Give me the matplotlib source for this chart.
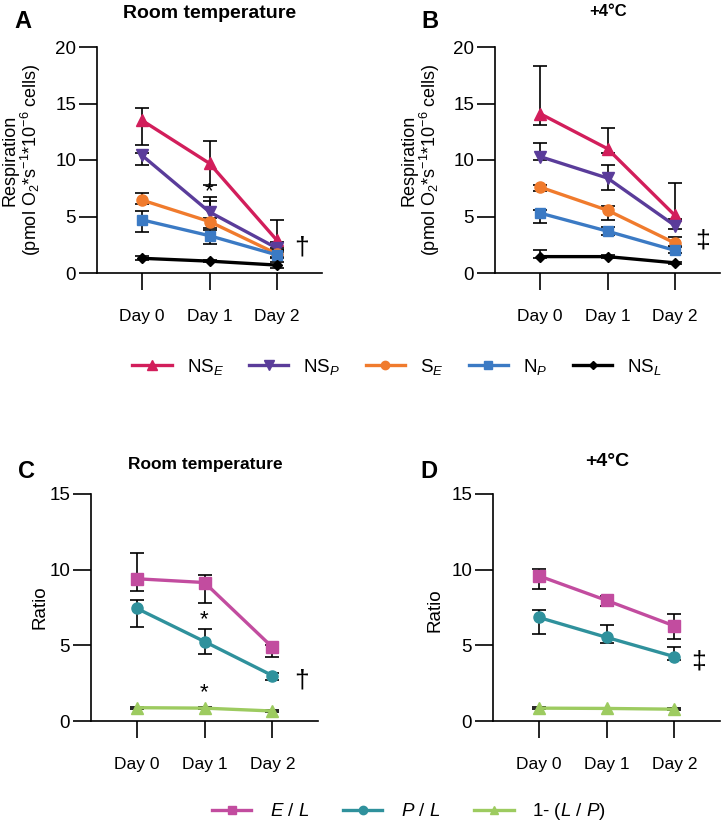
import matplotlib
matplotlib.use("Agg")
import matplotlib.pyplot as plt
from matplotlib.lines import Line2D
import numpy as np

plt.rcParams['font.family'] = ['Liberation Sans', 'DejaVu Sans']
plt.rcParams['mathtext.fontset'] = 'custom'
plt.rcParams['mathtext.rm'] = 'Liberation Sans'
plt.rcParams['mathtext.it'] = 'Liberation Sans:italic'
plt.rcParams['mathtext.bf'] = 'Liberation Sans:bold'

# ---------------------------------------------------------------
# data
days = ['Day 0', 'Day 1', 'Day 2']

# panel A : respiration, room temperature  (mean, low end, high end of bar)
rt_nse = [13.5, 9.7, 2.9];   rt_nse_lo = [11.3, 7.8, 2.2];  rt_nse_hi = [14.6, 11.7, 4.7]
rt_nsp = [10.4, 5.4, 2.2];   rt_nsp_lo = [9.6, 4.9, 1.9];   rt_nsp_hi = [10.6, 6.7, 2.7]
rt_se = [6.45, 4.55, 1.7];   rt_se_lo = [6.1, 4.0, 1.4];    rt_se_hi = [7.05, 6.4, 2.0]
rt_np = [4.7, 3.3, 1.6];     rt_np_lo = [3.65, 2.6, 1.3];   rt_np_hi = [5.5, 3.8, 2.0]
rt_nsl = [1.3, 1.05, 0.7];   rt_nsl_lo = [1.15, 0.95, 0.45]; rt_nsl_hi = [1.5, 1.15, 0.95]

# panel B : respiration, +4 C
c4_nse = [14.1, 11.0, 5.1];  c4_nse_lo = [13.1, 10.6, 4.8]; c4_nse_hi = [18.3, 12.8, 8.0]
c4_nsp = [10.3, 8.4, 4.2];   c4_nsp_lo = [10.0, 7.35, 3.85]; c4_nsp_hi = [11.5, 9.55, 4.7]
c4_se = [7.6, 5.55, 2.65];   c4_se_lo = [7.3, 4.7, 2.4];    c4_se_hi = [7.8, 5.9, 3.2]
c4_np = [5.3, 3.7, 2.0];     c4_np_lo = [4.4, 3.4, 1.8];    c4_np_hi = [5.6, 4.1, 2.3]
c4_nsl = [1.45, 1.45, 0.9];  c4_nsl_lo = [1.3, 1.35, 0.8];  c4_nsl_hi = [2.0, 1.55, 1.0]

# panel C : ratios, room temperature
rt_el = [9.4, 9.15, 4.87];   rt_el_lo = [8.6, 7.8, 4.25];   rt_el_hi = [11.1, 9.65, 5.0]
rt_pl = [7.45, 5.25, 3.0];   rt_pl_lo = [6.2, 4.45, 2.7];   rt_pl_hi = [8.0, 6.05, 3.2]
rt_lp = [0.88, 0.85, 0.66];  rt_lp_lo = [0.8, 0.78, 0.6];   rt_lp_hi = [0.92, 0.9, 0.72]

# panel D : ratios, +4 C
c4_el = [9.6, 7.97, 6.28];   c4_el_lo = [8.7, 7.6, 5.4];    c4_el_hi = [10.05, 8.27, 7.07]
c4_pl = [6.85, 5.53, 4.25];  c4_pl_lo = [5.75, 5.17, 4.0];  c4_pl_hi = [7.33, 6.34, 4.87]
c4_lp = [0.85, 0.83, 0.78];  c4_lp_lo = [0.8, 0.78, 0.72];  c4_lp_hi = [0.9, 0.88, 0.84]

resp_labels = [r'NS$_E$', r'NS$_P$', r'S$_E$', r'N$_P$', r'NS$_L$']
ratio_labels = [r'$E$ / $L$', r'$P$ / $L$', r'1- ($L$ / $P$)']

resp_colors = ['#D21E5B', '#5A3C9A', '#F07B2D', '#3B7AC4', '#000000']
resp_markers = ['^', 'v', 'o', 's', 'D']
resp_ms = [9, 9, 8, 7.5, 5.5]
ratio_colors = ['#C24C9F', '#2F919C', '#9DCB60']
ratio_markers = ['s', 'o', '^']
ratio_ms = [8.5, 8, 8.5]

W, H = 725, 826
fig = plt.figure(figsize=(W / 100, H / 100), dpi=100)

def fx(x):
    return x / W

def fy(y):
    return 1 - y / H

def series_plot(ax, x, m, lo, hi, color, marker, ms):
    m = np.array(m); lo = np.array(lo); hi = np.array(hi)
    ax.errorbar(x, m, yerr=[m - lo, hi - m], fmt='none', ecolor='black',
                elinewidth=1.2, capsize=5, capthick=1.2, zorder=2)
    ax.plot(x, m, color=color, lw=2.4, marker=marker, ms=ms, mec=color, zorder=3,
            clip_on=False)

def style_axes(ax, ymax, step):
    x = np.arange(len(days))
    ax.set_xlim(-0.67, 2.67)
    ax.set_ylim(0, ymax)
    ax.set_yticks(np.arange(0, ymax + 1, step))
    ax.set_xticks(x)
    ax.set_xticklabels(days)
    for s in ['top', 'right']:
        ax.spines[s].set_visible(False)
    for s in ['left', 'bottom']:
        ax.spines[s].set_linewidth(1.2)
    ax.tick_params(axis='y', length=13, width=1.2, labelsize=13.5, pad=2)
    ax.tick_params(axis='x', length=12, width=1.2, labelsize=12.5, pad=14)

x = np.arange(len(days))

# ---- A
axA = fig.add_axes([fx(97), fy(273), fx(225), (273 - 47) / H])
for m, lo, hi, c, mk, ms in zip([rt_nse, rt_nsp, rt_se, rt_np, rt_nsl],
                                [rt_nse_lo, rt_nsp_lo, rt_se_lo, rt_np_lo, rt_nsl_lo],
                                [rt_nse_hi, rt_nsp_hi, rt_se_hi, rt_np_hi, rt_nsl_hi],
                                resp_colors, resp_markers, resp_ms):
    series_plot(axA, x, m, lo, hi, c, mk, ms)
style_axes(axA, 20, 5)
axA.text(1, 7.2, '*', ha='center', va='center', fontsize=16)
axA.text(2.37, 2.3, '\u2020', ha='center', va='center', fontsize=19)

# ---- B
axB = fig.add_axes([fx(495), fy(273), fx(225), (273 - 47) / H])
for m, lo, hi, c, mk, ms in zip([c4_nse, c4_nsp, c4_se, c4_np, c4_nsl],
                                [c4_nse_lo, c4_nsp_lo, c4_se_lo, c4_np_lo, c4_nsl_lo],
                                [c4_nse_hi, c4_nsp_hi, c4_se_hi, c4_np_hi, c4_nsl_hi],
                                resp_colors, resp_markers, resp_ms):
    series_plot(axB, x, m, lo, hi, c, mk, ms)
style_axes(axB, 20, 5)
axB.text(2.41, 2.9, '\u2021', ha='center', va='center', fontsize=19)

# ---- C
axC = fig.add_axes([fx(91), fy(721), fx(227), (721 - 494) / H])
for m, lo, hi, c, mk, ms in zip([rt_el, rt_pl, rt_lp], [rt_el_lo, rt_pl_lo, rt_lp_lo],
                                [rt_el_hi, rt_pl_hi, rt_lp_hi],
                                ratio_colors, ratio_markers, ratio_ms):
    series_plot(axC, x, m, lo, hi, c, mk, ms)
style_axes(axC, 15, 5)
axC.text(1, 6.7, '*', ha='center', va='center', fontsize=16)
axC.text(1, 1.85, '*', ha='center', va='center', fontsize=16)
axC.text(2.43, 2.7, '\u2020', ha='center', va='center', fontsize=19)

# ---- D
axD = fig.add_axes([fx(493), fy(721), fx(227), (721 - 494) / H])
for m, lo, hi, c, mk, ms in zip([c4_el, c4_pl, c4_lp], [c4_el_lo, c4_pl_lo, c4_lp_lo],
                                [c4_el_hi, c4_pl_hi, c4_lp_hi],
                                ratio_colors, ratio_markers, ratio_ms):
    series_plot(axD, x, m, lo, hi, c, mk, ms)
style_axes(axD, 15, 5)
axD.text(2.36, 3.9, '\u2021', ha='center', va='center', fontsize=19)

# ---- titles, panel letters, y labels
fig.text(fx(210), fy(13), 'Room temperature', ha='center', va='center',
         fontsize=14, fontweight='bold')
fig.text(fx(608), fy(11), '+4°C', ha='center', va='center', fontsize=12, fontweight='bold')
fig.text(fx(205), fy(465), 'Room temperature', ha='center', va='center',
         fontsize=12.5, fontweight='bold')
fig.text(fx(607), fy(462), '+4°C', ha='center', va='center', fontsize=14, fontweight='bold')

for lt, px, py in [('A', 23, 22), ('B', 430, 22), ('C', 27, 472), ('D', 429, 472)]:
    fig.text(fx(px), fy(py), lt, ha='center', va='center', fontsize=17, fontweight='bold')

resp_ylabel = 'Respiration\n' + r'(pmol O$_2$*s$^{-1}$*10$^{-6}$ cells)'
fig.text(fx(22), fy(160), resp_ylabel, rotation=90, ha='center', va='center',
         fontsize=13, multialignment='center', linespacing=1.0)
fig.text(fx(421), fy(160), resp_ylabel, rotation=90, ha='center', va='center',
         fontsize=13, multialignment='center', linespacing=1.0)
fig.text(fx(40), fy(607), 'Ratio', rotation=90, ha='center', va='center', fontsize=13.5)
fig.text(fx(435), fy(610), 'Ratio', rotation=90, ha='center', va='center', fontsize=13.5)

# ---- legends
h1 = [Line2D([0], [0], color=c, lw=2.4, marker=mk, ms=ms * 0.75, mec=c)
      for c, mk, ms in zip(resp_colors, resp_markers, resp_ms)]
fig.legend(h1, resp_labels, loc='center', bbox_to_anchor=(fx(397), fy(367)), ncol=5,
           frameon=False, fontsize=13.5, handlelength=2.1, handletextpad=0.8,
           columnspacing=1.35)
h2 = [Line2D([0], [0], color=c, lw=2.4, marker=mk, ms=ms * 0.75, mec=c)
      for c, mk, ms in zip(ratio_colors, ratio_markers, ratio_ms)]
fig.legend(h2, ratio_labels, loc='center', bbox_to_anchor=(fx(409), fy(812)), ncol=3,
           frameon=False, fontsize=13.5, handlelength=2.1, handletextpad=1.0,
           columnspacing=1.8)

fig.savefig('out.png', dpi=100)
